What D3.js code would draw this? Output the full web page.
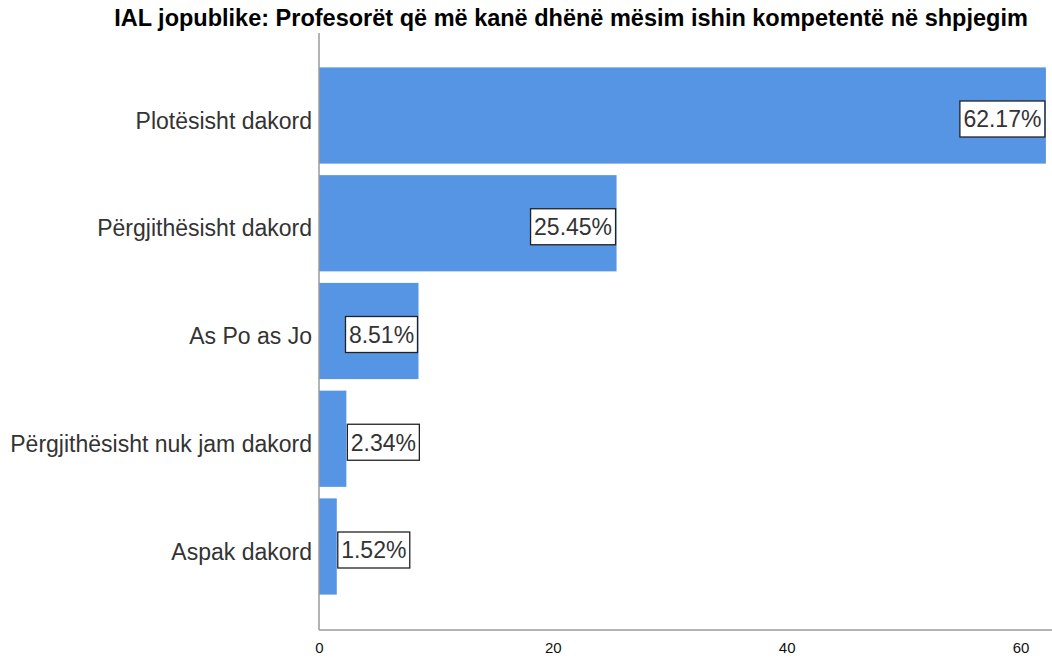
<!DOCTYPE html>
<html>
<head>
<meta charset="utf-8">
<script src="https://cdn.jsdelivr.net/npm/d3@7"></script>
<style>
  body { margin: 0; background: #fff; }
  text { font-family: "Liberation Sans", Arial, sans-serif; }
</style>
</head>
<body>
<svg id="chart" width="1052" height="659"></svg>
<script>
// chart data
var categories = ["Plotësisht dakord", "Përgjithësisht dakord", "As Po as Jo", "Përgjithësisht nuk jam dakord", "Aspak dakord"];
var values = [62.17, 25.45, 8.51, 2.34, 1.52];
var tickValues = [0, 20, 40, 60];
var title = "IAL jopublike: Profesorët që më kanë dhënë mësim ishin kompetentë në shpjegim";

var svg = d3.select("#chart");

var xScale = d3.scaleLinear()
  .domain([0, 62.35])
  .range([319, 1048]);

var yScale = d3.scaleBand()
  .domain(categories)
  .range([62, 600])
  .paddingInner(0.107)
  .paddingOuter(0.05);

// title
svg.append("text")
  .attr("x", 571)
  .attr("y", 26)
  .attr("text-anchor", "middle")
  .style("font-size", "23.5px")
  .style("font-weight", "bold")
  .style("fill", "#000")
  .text(title);

// bars
svg.selectAll(".bar")
  .data(values)
  .enter()
  .append("rect")
  .attr("class", "bar")
  .attr("x", xScale(0))
  .attr("y", function(d, i) { return yScale(categories[i]); })
  .attr("width", function(d) { return xScale(d) - xScale(0); })
  .attr("height", yScale.bandwidth())
  .style("fill", "#5595e3");

// axes lines
svg.append("line")
  .attr("x1", 319).attr("x2", 319)
  .attr("y1", 33).attr("y2", 630)
  .style("stroke", "#9a9a9a")
  .style("stroke-width", 1.5);

var xAxis = svg.append("g")
  .attr("transform", "translate(0,630)")
  .call(d3.axisBottom(xScale).tickValues(tickValues).tickSize(0).tickPadding(12));
xAxis.select(".domain")
  .attr("d", "M319,0H1052")
  .style("stroke", "#9a9a9a")
  .style("stroke-width", 1.5);
xAxis.selectAll("text")
  .style("font-family", "'Liberation Sans', Arial, sans-serif")
  .style("font-size", "15px")
  .style("fill", "#111");

// category labels (sit a little below the bar centre, as in the original)
svg.selectAll(".cat")
  .data(categories)
  .enter()
  .append("text")
  .attr("class", "cat")
  .attr("x", 312)
  .attr("y", function(d) { return yScale(d) + yScale.bandwidth() / 2 + 5; })
  .attr("dy", "0.35em")
  .attr("text-anchor", "end")
  .style("font-size", "23px")
  .style("fill", "#333")
  .text(function(d) { return d; });

// value labels in boxes
var boxH = 36, padX = 3.5;
var labels = svg.selectAll(".vlab")
  .data(values)
  .enter()
  .append("g")
  .attr("class", "vlab");

labels.append("text")
  .attr("dy", "0.36em")
  .attr("text-anchor", "middle")
  .style("font-size", "23px")
  .style("fill", "#333")
  .text(function(d) { return d.toFixed(2) + "%"; });

labels.each(function(d, i) {
  var g = d3.select(this);
  var tw = g.select("text").node().getComputedTextLength();
  var boxW = Math.round(tw + 2 * padX);
  var end = xScale(d);
  var len = end - xScale(0);
  var x0 = len >= boxW ? end - boxW - 1 : end + 1;
  var cy = yScale(categories[i]) + yScale.bandwidth() / 2 + 3.5;
  g.attr("transform", "translate(" + x0 + "," + (cy - boxH / 2) + ")");
  g.insert("rect", "text")
    .attr("width", boxW)
    .attr("height", boxH)
    .style("fill", "#fff")
    .style("stroke", "#222")
    .style("stroke-width", 1.3);
  g.select("text")
    .attr("x", boxW / 2)
    .attr("y", boxH / 2);
});
</script>
</body>
</html>
